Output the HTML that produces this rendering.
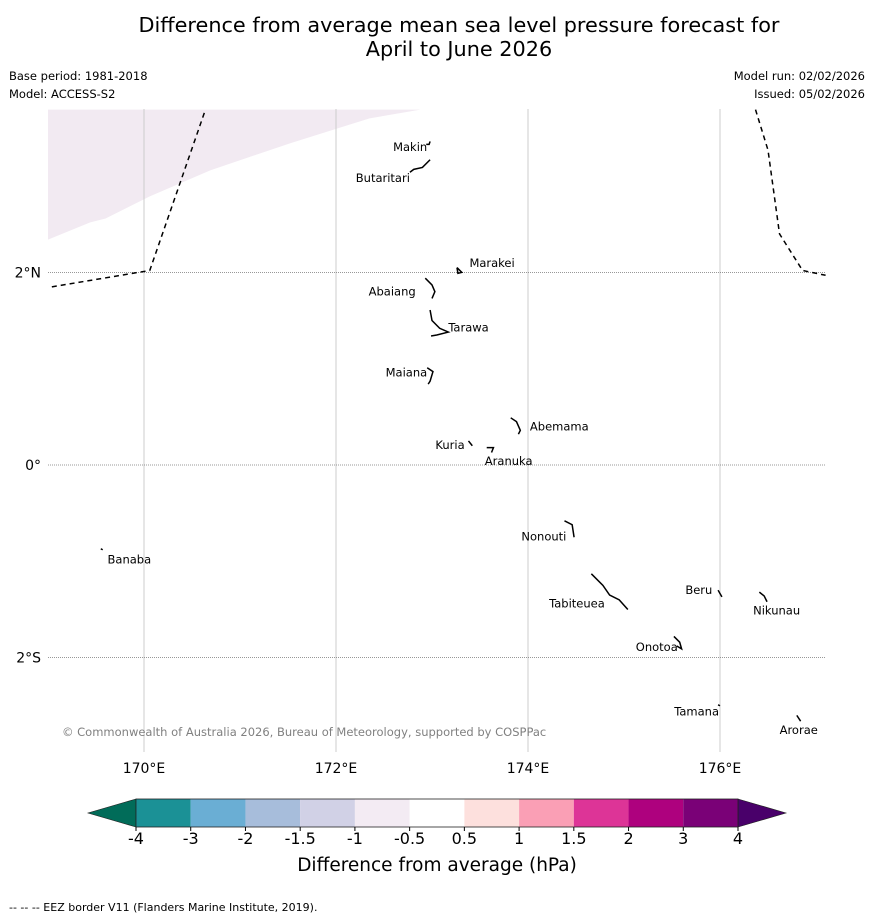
<!DOCTYPE html>
<html><head><meta charset="utf-8"><style>
body{margin:0;background:#fff;font-family:"Liberation Sans","DejaVu Sans",sans-serif;}
svg text{font-family:"DejaVu Sans","Liberation Sans",sans-serif;}
</style></head><body>
<svg id="chart" width="873" height="919" viewBox="0 0 873 919" xmlns="http://www.w3.org/2000/svg">
<text x="459" y="32" font-size="20.8" text-anchor="middle">Difference from average mean sea level pressure forecast for</text>
<text x="459" y="56" font-size="20.8" text-anchor="middle">April to June 2026</text>
<text x="9" y="80" font-size="11.5">Base period: 1981-2018</text>
<text x="9" y="98" font-size="11.5">Model: ACCESS-S2</text>
<text x="865" y="80" font-size="11.5" text-anchor="end">Model run: 02/02/2026</text>
<text x="865" y="98" font-size="11.5" text-anchor="end">Issued: 05/02/2026</text>
<g id="map"></g>
<g id="cbar"></g>
<text x="437" y="871" font-size="18.5" text-anchor="middle">Difference from average (hPa)</text>
<text x="9" y="911" font-size="11">--  --  -- EEZ border V11 (Flanders Marine Institute, 2019).</text>
</svg>
<script>
const lonTicks=[170,172,174,176];
const latTicks=[2,0,-2];
const latTickLabels=["2°N","0°","2°S"];
const shadedRegion=[[169,3.69],[169,2.34],[169.44,2.52],[169.6,2.56],[170.06,2.79],[170.69,3.06],[171.52,3.34],[172.35,3.6],[172.88,3.69]];
const eezWest=[[169.04,1.85],[170.06,2.02],[170.64,3.69]];
const eezEast=[[176.37,3.69],[176.5,3.27],[176.62,2.4],[176.86,2.02],[177.1,1.97]];
const islandNames=["Makin","Butaritari","Marakei","Abaiang","Tarawa","Maiana","Abemama","Kuria","Aranuka","Nonouti","Tabiteuea","Beru","Nikunau","Onotoa","Tamana","Arorae","Banaba"];
const islandShapes=[
[[172.94,3.33],[172.97,3.33],[172.98,3.36]],
[[172.77,3.04],[172.81,3.07],[172.9,3.09],[172.98,3.17]],
[[173.26,2.05],[173.27,1.99],[173.31,2.0],[173.26,2.05]],
[[172.93,1.94],[173.0,1.87],[173.03,1.8],[173.0,1.73]],
[[172.98,1.61],[173.0,1.5],[173.08,1.42],[173.17,1.38],[173.05,1.35],[172.99,1.34]],
[[172.95,1.01],[173.01,0.97],[172.98,0.87],[172.96,0.84]],
[[173.82,0.49],[173.88,0.45],[173.92,0.36],[173.9,0.32]],
[[173.38,0.25],[173.42,0.2]],
[[173.57,0.18],[173.64,0.18],[173.62,0.13]],
[[174.38,-0.58],[174.46,-0.62],[174.48,-0.75]],
[[174.66,-1.13],[174.78,-1.25],[174.85,-1.35],[174.95,-1.4],[175.04,-1.5]],
[[175.98,-1.3],[176.02,-1.37]],
[[176.41,-1.32],[176.46,-1.36],[176.49,-1.42]],
[[175.52,-1.78],[175.58,-1.84],[175.6,-1.91],[175.55,-1.88]],
[[175.98,-2.49],[176.0,-2.5]],
[[176.8,-2.6],[176.84,-2.66]],
[[169.55,-0.87],[169.57,-0.88]]];
const labelPos=[[172.95,3.3,"end"],[172.77,2.98,"end"],[173.39,2.1,"start"],[172.83,1.8,"end"],[173.17,1.43,"start"],[172.95,0.96,"end"],[174.02,0.4,"start"],[173.34,0.21,"end"],[173.55,0.04,"start"],[174.4,-0.74,"end"],[174.8,-1.44,"end"],[175.92,-1.3,"end"],[176.59,-1.51,"middle"],[175.56,-1.89,"end"],[175.99,-2.56,"end"],[176.82,-2.75,"middle"],[169.62,-0.98,"start"]];
</script>
<script>
(function(){
const NS="http://www.w3.org/2000/svg";
const X0=48,X1=825,Y0=109,Y1=752;
const lon0=169,pxLon=96,pxLat=96.3,yEq=465;
function xs(l){return X0+(l-lon0)*pxLon;}
function ys(l){return yEq-l*pxLat;}
const map=document.getElementById('map');
const cbar=document.getElementById('cbar');
function el(t,a,p){const e=document.createElementNS(NS,t);for(const k in a)e.setAttribute(k,a[k]);(p||map).appendChild(e);return e;}

const sh=el('path',{d:'M'+shadedRegion.map(p=>xs(p[0])+','+ys(p[1])).join('L')+'Z',fill:'#f2eaf2'});


lonTicks.forEach(l=>{
 const ln=el('line',{x1:xs(l),x2:xs(l),y1:Y0,y2:Y1,stroke:'#ccc','stroke-width':1});
 
 
 const t=el('text',{x:xs(l),y:Y1+21,'font-size':14,'text-anchor':'middle'});
 t.textContent=l+'°E';
 
 
});
latTicks.forEach((l,i)=>{
 const ln=el('line',{x1:X0,x2:X1,y1:ys(l),y2:ys(l),stroke:'#777','stroke-width':0.7,'stroke-dasharray':'1,1'});
 
 
 const t=el('text',{x:41,y:ys(l)+5,'font-size':14,'text-anchor':'end'});
 t.textContent=latTickLabels[i];
 
 
});
[eezWest,eezEast].forEach(arr=>{
 const p=el('polyline',{points:arr.map(p=>xs(p[0])+','+ys(p[1])).join(' '),fill:'none',stroke:'#000','stroke-width':1.5,'stroke-dasharray':'5,4'});
 
 
});
islandShapes.forEach((s,i)=>{
 const p=el('polyline',{points:s.map(q=>xs(q[0])+','+ys(q[1])).join(' '),fill:'none',stroke:'#000','stroke-width':1.5});
 
 
 const lp=labelPos[i];
 const t=el('text',{x:xs(lp[0]),y:ys(lp[1])+4,'font-size':11.5,'text-anchor':lp[2]});
 t.textContent=islandNames[i];
 
 
});
const c=el('text',{x:62,y:736,'font-size':11.5,fill:'#808080'});
c.textContent='© Commonwealth of Australia 2026, Bureau of Meteorology, supported by COSPPac';



const levels=["-4","-3","-2","-1.5","-1","-0.5","0.5","1","1.5","2","3","4"];
const colors=["#1b9196","#6aaed4","#a7bddb","#d1d1e6","#f3ebf3","#ffffff","#fde0dd","#fa9fb5","#dd3497","#ae017e","#7a0177"];
const cx0=136,cx1=738,cy=799,ch=28,w=(cx1-cx0)/colors.length;
const la=el('path',{d:`M${cx0},${cy}L88,${cy+ch/2}L${cx0},${cy+ch}Z`,fill:'#016c59',stroke:'#222','stroke-width':0.6},cbar);


const ra=el('path',{d:`M${cx1},${cy}L786,${cy+ch/2}L${cx1},${cy+ch}Z`,fill:'#49006a',stroke:'#222','stroke-width':0.6},cbar);


colors.forEach((col,i)=>{
 const r=el('rect',{x:cx0+i*w,y:cy,width:w,height:ch,fill:col},cbar);
 
 
});
el('rect',{x:cx0,y:cy,width:cx1-cx0,height:ch,fill:'none',stroke:'#222','stroke-width':0.8},cbar);
levels.forEach((l,i)=>{
 el('line',{x1:cx0+i*w,x2:cx0+i*w,y1:cy+ch,y2:cy+ch+4,stroke:'#000'},cbar);
 const t=el('text',{x:cx0+i*w,y:844,'font-size':16,'text-anchor':'middle'},cbar);
 t.textContent=l;
 
 
});
})();
</script>
</body></html>
